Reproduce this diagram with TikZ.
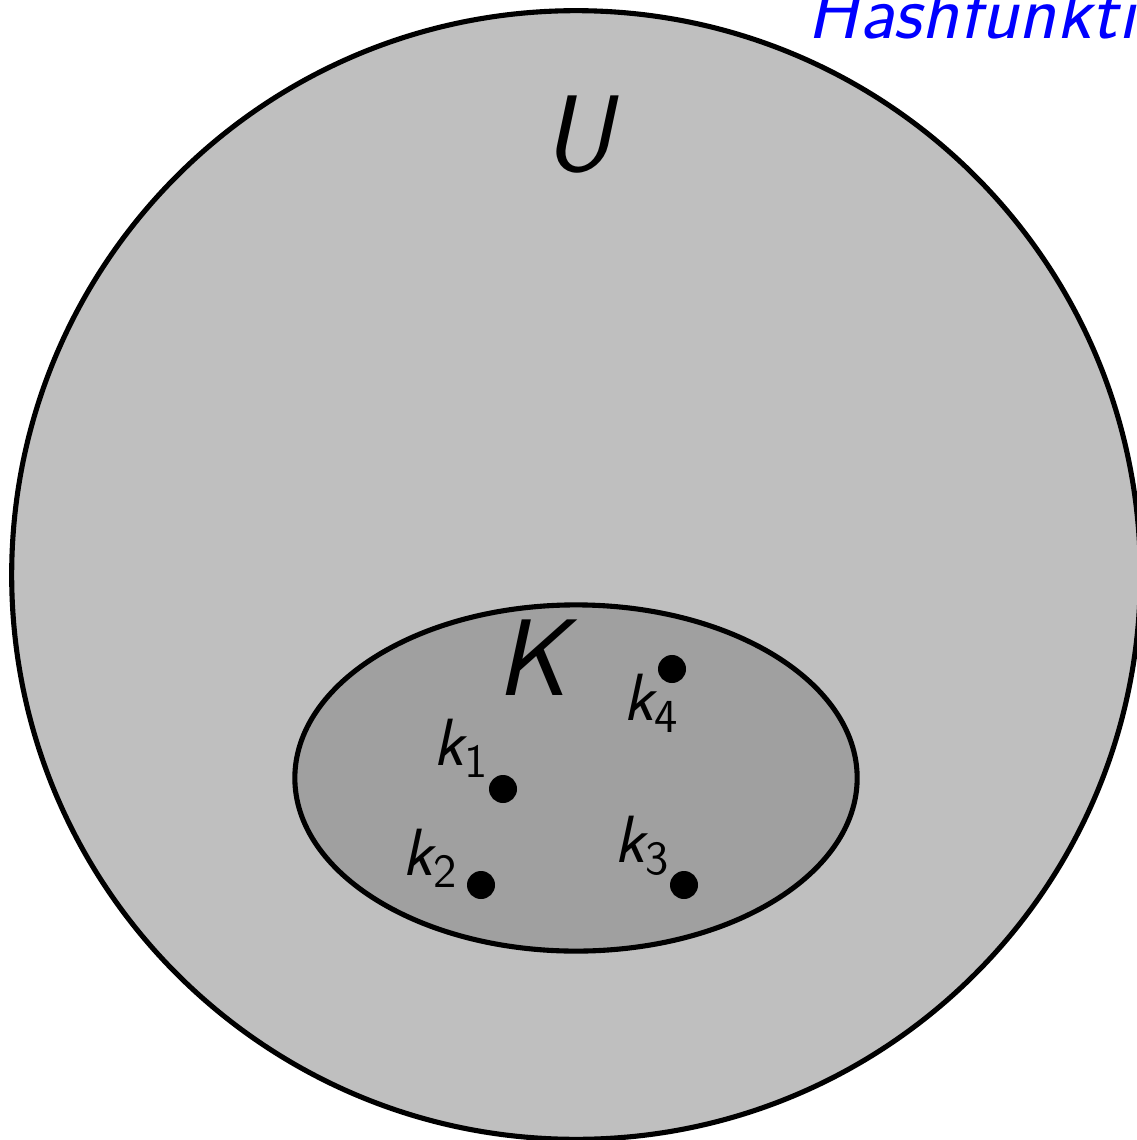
\documentclass[tikz,border=0pt]{standalone}
\usepackage{fontspec}
\setmainfont{Latin Modern Sans}
\begin{document}
\begin{tikzpicture}[x=0.01cm,y=-0.01cm,
  outer/.style={draw=black,line width=1.45pt,fill=black!25},
  inner/.style={draw=black,line width=1.45pt,fill=innergray},
  dot/.style={circle,fill=black,inner sep=0pt,minimum size=0.28cm},
  klabel/.style={anchor=base west,inner sep=0pt,font=\fontsize{19}{22}\selectfont\itshape},
  biglabel/.style={anchor=base,inner sep=0pt,font=\fontsize{31}{36}\selectfont\itshape}]
\definecolor{innergray}{RGB}{160,160,160}
\useasboundingbox (0,0) rectangle (1136,1140);
\draw[outer] (576,575) circle [radius=5.64cm];
\draw[inner] (576,778) ellipse [x radius=2.81cm, y radius=1.73cm];
\node[biglabel] (U) at (578,172) {U};
\node[biglabel] (K) at (532,695) {K};
\node[dot] (d1) at (503,789) {};
\node[dot] (d2) at (481,885) {};
\node[dot] (d3) at (684,885) {};
\node[dot] (d4) at (672,669) {};
\newcommand{\ksub}[1]{k\raisebox{-0.12cm}{\fontsize{13.5}{16}\selectfont\upshape #1}}
\node[klabel] (l1) at (433,765) {\ksub{1}};
\node[klabel] (l2) at (402,875) {\ksub{2}};
\node[klabel] (l3) at (614,862) {\ksub{3}};
\node[klabel] (l4) at (623,720) {\ksub{4}};
\node[anchor=base west,inner sep=0pt,text=blue,font=\fontsize{22}{26}\selectfont\itshape] (h) at (807,39) {Hashfunktion};
\end{tikzpicture}
\end{document}
